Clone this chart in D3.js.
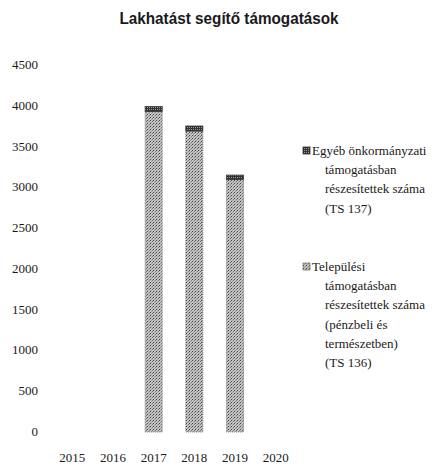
<!DOCTYPE html>
<html>
<head>
<meta charset="utf-8">
<script src="https://cdn.jsdelivr.net/npm/d3@7"></script>
<style>
  body { margin: 0; background: #fff; }
  svg text { font-family: "Liberation Serif", "DejaVu Serif", serif; fill: #1a1a1a; }
</style>
</head>
<body>
<div id="chart"></div>
<script>
// data
var years = ["2015", "2016", "2017", "2018", "2019", "2020"];
var telepulesi = [0, 0, 3930, 3690, 3095, 0];   // TS 136
var egyeb = [0, 0, 60, 62, 55, 0];              // TS 137
var yTicks = [0, 500, 1000, 1500, 2000, 2500, 3000, 3500, 4000, 4500];

var legendItems = [
	{key: "egyeb", lines: ["Egyéb önkormányzati", "támogatásban", "részesítettek száma", "(TS 137)"]},
	{key: "telep", lines: ["Települési", "támogatásban", "részesítettek száma", "(pénzbeli és", "természetben)", "(TS 136)"]}
];

var width = 445, height = 471;
var svg = d3.select("#chart").append("svg").attr("width", width).attr("height", height);

// dotted fills, like the scanned original
var defs = svg.append("defs");
var p1 = defs.append("pattern").attr("id", "pTelep").attr("patternUnits", "userSpaceOnUse").attr("width", 3).attr("height", 3);
p1.append("rect").attr("width", 3).attr("height", 3).attr("fill", "#c4c4c4");
p1.append("rect").attr("x", 0).attr("y", 0).attr("width", 1).attr("height", 1).attr("fill", "#444");
p1.append("rect").attr("x", 2).attr("y", 1).attr("width", 1).attr("height", 1).attr("fill", "#777");
p1.append("rect").attr("x", 1).attr("y", 2).attr("width", 1).attr("height", 1).attr("fill", "#999");
var p2 = defs.append("pattern").attr("id", "pEgyeb").attr("patternUnits", "userSpaceOnUse").attr("width", 2).attr("height", 2);
p2.append("rect").attr("width", 2).attr("height", 2).attr("fill", "#333");
p2.append("rect").attr("x", 1).attr("y", 1).attr("width", 1).attr("height", 1).attr("fill", "#999");

var fills = {telep: "url(#pTelep)", egyeb: "url(#pEgyeb)"};

svg.append("text").attr("transform", "translate(229,24) scale(0.9,1)").attr("text-anchor", "middle")
	.style("font-family", "'Liberation Sans', sans-serif")
	.style("font-weight", "bold").style("font-size", "17px").attr("fill", "#111")
	.text("Lakhatást segítő támogatások");

var x = d3.scaleBand().domain(years).range([52, 296]).paddingInner(0.58).paddingOuter(0.29);
var y = d3.scaleLinear().domain([0, 4500]).range([432, 65]);

// y tick labels (no axis line in the original)
svg.selectAll("text.ytick").data(yTicks).enter().append("text")
	.attr("class", "ytick")
	.attr("x", 38).attr("y", function(d){ return y(d) + 4; })
	.attr("text-anchor", "end").style("font-size", "13px")
	.text(function(d){ return d; });

// x labels
svg.selectAll("text.xtick").data(years).enter().append("text")
	.attr("class", "xtick")
	.attr("x", function(d){ return x(d) + x.bandwidth()/2; })
	.attr("y", 462).attr("text-anchor", "middle").style("font-size", "13px")
	.text(function(d){ return d; });

var stack = years.map(function(d, i){
	return {year: d, telep: telepulesi[i], egyeb: egyeb[i]};
}).filter(function(d){ return d.telep + d.egyeb > 0; });

var bars = svg.selectAll("g.bar").data(stack).enter().append("g").attr("class", "bar");
bars.append("rect")
	.attr("x", function(d){ return x(d.year); })
	.attr("width", x.bandwidth())
	.attr("y", function(d){ return y(d.telep); })
	.attr("height", function(d){ return y(0) - y(d.telep); })
	.attr("fill", fills.telep)
	.attr("stroke", "#666").attr("stroke-width", 0.8).attr("stroke-dasharray", "1,1");
bars.append("rect")
	.attr("x", function(d){ return x(d.year); })
	.attr("width", x.bandwidth())
	.attr("y", function(d){ return y(d.telep + d.egyeb); })
	.attr("height", function(d){ return y(d.telep) - y(d.telep + d.egyeb); })
	.attr("fill", fills.egyeb)
	.attr("stroke", "#333").attr("stroke-width", 0.8);

// legend
var legendTop = [155, 271];
var lineH = 19.2;
var leg = svg.selectAll("g.leg").data(legendItems).enter().append("g").attr("class", "leg")
	.attr("transform", function(d, i){ return "translate(303," + legendTop[i] + ")"; });
leg.append("rect").attr("x", 0).attr("y", -8).attr("width", 7).attr("height", 7)
	.attr("fill", function(d){ return fills[d.key]; })
	.attr("stroke", function(d){ return d.key == "egyeb" ? "#333" : "#777"; }).attr("stroke-width", 0.8);
leg.each(function(d){
	var g = d3.select(this);
	d.lines.forEach(function(t, j){
		g.append("text").attr("x", j === 0 ? 9 : 22).attr("y", j * lineH)
			.style("font-size", "13px").text(t);
	});
});
</script>
</body>
</html>
